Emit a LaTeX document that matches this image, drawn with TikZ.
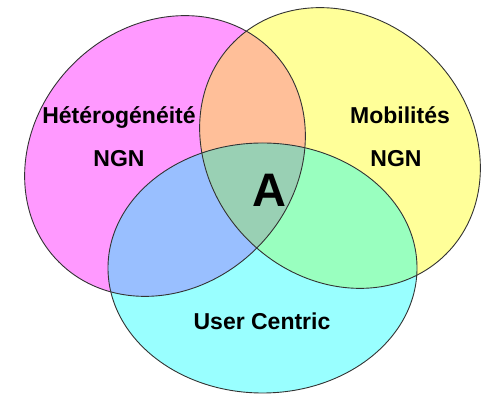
\documentclass[tikz,border=0pt]{standalone}
\usepackage{fontspec}
\setmainfont{Liberation Sans}
\definecolor{magfill}{HTML}{FF99FF}
\definecolor{yelfill}{HTML}{FFFF99}
\definecolor{cyafill}{HTML}{99FFFF}
\definecolor{orafill}{HTML}{FFBF99}
\definecolor{blufill}{HTML}{99BFFF}
\definecolor{grefill}{HTML}{99FFBF}
\definecolor{cenfill}{HTML}{99D0B4}
\definecolor{edge}{HTML}{333333}
\tikzset{
  lbl/.style={font=\bfseries\fontsize{23}{26}\selectfont, text=black, inner sep=0pt, anchor=base},
  biglbl/.style={font=\bfseries\fontsize{47}{52}\selectfont, text=black, inner sep=0pt, anchor=base},
  outline/.style={draw=edge, line width=0.9pt}
}
\newcommand{\magpath}{(165,239) ellipse [x radius=150, y radius=130, rotate=45]}
\newcommand{\yelpath}{(340,247) ellipse [x radius=150, y radius=130, rotate=-45]}
\newcommand{\cyapath}{(262.5,127) ellipse [x radius=154.5, y radius=125]}
\begin{document}
\begin{tikzpicture}[x=1pt,y=1pt]
\useasboundingbox (0,0) rectangle (481,395);
\fill[white] (0,0) rectangle (481,395);
% base fills
\fill[magfill] \magpath;
\fill[yelfill] \yelpath;
\fill[cyafill] \cyapath;
% pairwise overlaps
\begin{scope}
  \clip \magpath;
  \fill[orafill] \yelpath;
  \fill[blufill] \cyapath;
\end{scope}
\begin{scope}
  \clip \yelpath;
  \fill[grefill] \cyapath;
\end{scope}
\begin{scope}
  \clip \magpath;
  \clip \yelpath;
  \fill[cenfill] \cyapath;
\end{scope}
% outlines
\draw[outline] \magpath;
\draw[outline] \yelpath;
\draw[outline] \cyapath;
% labels
\node[lbl] (het) at (119,271) {Hétérogénéité};
\node[lbl] (ngnl) at (119,228) {NGN};
\node[lbl] (mob) at (400,271) {Mobilités};
\node[lbl] (ngnr) at (396,228) {NGN};
\node[lbl] (user) at (262,65) {User Centric};
\node[biglbl] (a) at (269,188) {A};
\end{tikzpicture}
\end{document}
